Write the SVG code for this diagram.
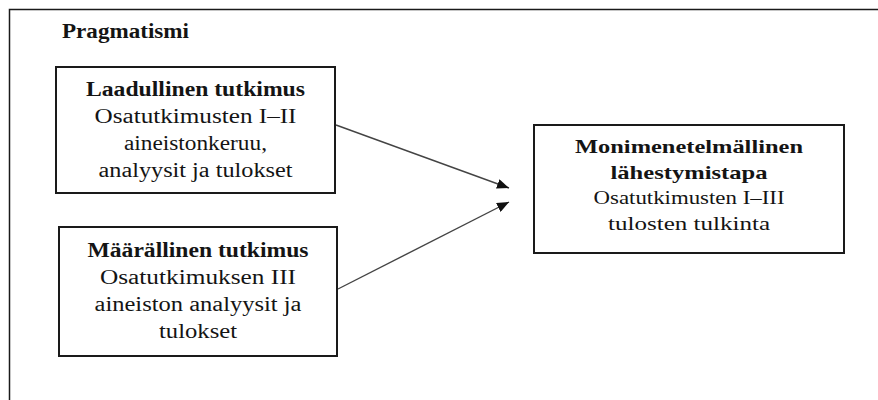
<svg xmlns="http://www.w3.org/2000/svg" width="878" height="400" viewBox="0 0 878 400">
<style>
  .frame { fill: none; stroke: #1a1a1a; stroke-width: 1.5; }
  .box { fill: #ffffff; stroke: #1a1a1a; stroke-width: 2; }
  .t { font-family: "Liberation Serif", "Times New Roman", serif; font-size: 20px; fill: #141414; text-anchor: middle; }
  .b { font-weight: bold; }
  .t3 { font-size: 19px; }
  .conn { fill: none; stroke: #444444; stroke-width: 1.4; }
</style>
<defs>
  <marker id="ah" viewBox="0 0 12 10" refX="12" refY="5" markerWidth="12" markerHeight="10" markerUnits="userSpaceOnUse" orient="auto">
    <path d="M0,0 L12,5 L0,10 z" fill="#111111"/>
  </marker>
</defs>
<rect width="878" height="400" fill="#ffffff"/>
<path class="frame" d="M9.5,400 V9.5 H878"/>
<g id="title">
  <text class="t b" x="62" y="38" style="text-anchor:start" textLength="127" lengthAdjust="spacingAndGlyphs">Pragmatismi</text>
</g>
<g id="node-laadullinen">
  <rect class="box" x="56" y="67" width="279" height="126"/>
  <text class="t b" x="195.5" y="96" textLength="219" lengthAdjust="spacingAndGlyphs">Laadullinen tutkimus</text>
  <text class="t" x="195.5" y="123" textLength="202" lengthAdjust="spacingAndGlyphs">Osatutkimusten I–II</text>
  <text class="t" x="195.5" y="150" textLength="143" lengthAdjust="spacingAndGlyphs">aineistonkeruu,</text>
  <text class="t" x="195.5" y="177" textLength="194" lengthAdjust="spacingAndGlyphs">analyysit ja tulokset</text>
</g>
<g id="node-maarallinen">
  <rect class="box" x="59" y="227" width="278" height="129"/>
  <text class="t b" x="198" y="257" textLength="221" lengthAdjust="spacingAndGlyphs">Määrällinen tutkimus</text>
  <text class="t" x="198" y="284" textLength="196" lengthAdjust="spacingAndGlyphs">Osatutkimuksen III</text>
  <text class="t" x="198" y="311" textLength="207" lengthAdjust="spacingAndGlyphs">aineiston analyysit ja</text>
  <text class="t" x="198" y="338" textLength="78" lengthAdjust="spacingAndGlyphs">tulokset</text>
</g>
<g id="node-monimenetelmallinen">
  <rect class="box" x="534" y="125" width="310" height="128"/>
  <text class="t t3 b" x="689" y="153" textLength="228" lengthAdjust="spacingAndGlyphs">Monimenetelmällinen</text>
  <text class="t t3 b" x="689" y="178.5" textLength="157" lengthAdjust="spacingAndGlyphs">lähestymistapa</text>
  <text class="t t3" x="689" y="204" textLength="191" lengthAdjust="spacingAndGlyphs">Osatutkimusten I–III</text>
  <text class="t t3" x="689" y="229.5" textLength="162" lengthAdjust="spacingAndGlyphs">tulosten tulkinta</text>
</g>
<g id="connectors">
  <line class="conn" x1="336" y1="125" x2="509" y2="188" marker-end="url(#ah)"/>
  <line class="conn" x1="338" y1="289" x2="509" y2="202" marker-end="url(#ah)"/>
</g>
</svg>
